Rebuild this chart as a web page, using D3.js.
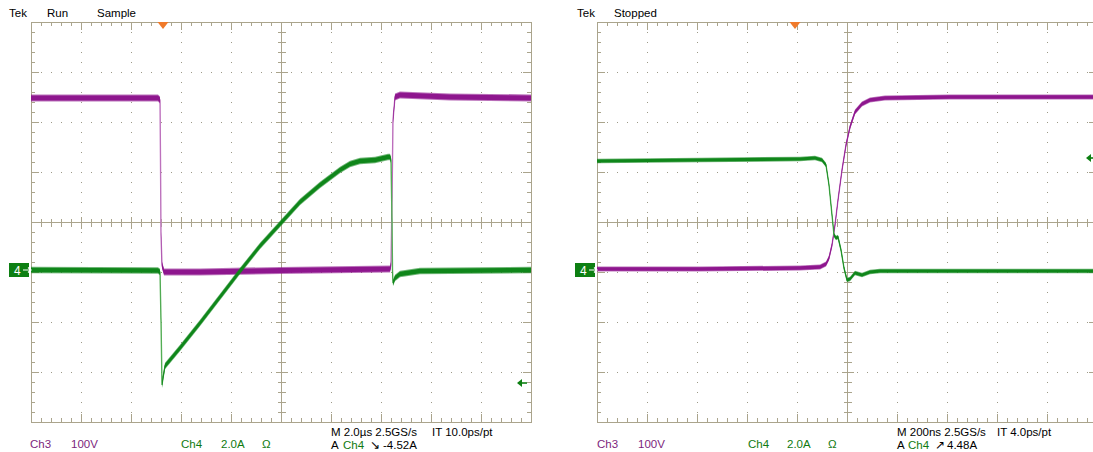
<!DOCTYPE html>
<html><head><meta charset="utf-8">
<script src="https://cdn.jsdelivr.net/npm/d3@7/dist/d3.min.js"></script>
<style>
html,body{margin:0;padding:0;background:#fff;}
svg{display:block;}
text{font-family:"Liberation Sans Narrow","Liberation Sans",Arial,sans-serif;font-size:11.5px;}
</style></head>
<body>
<svg id="c" width="1093" height="452"></svg>
<script>
// ---------- DATA ----------
// Left capture: time in µs from left edge of screen (2 µs/div)
const leftTime3 = [0, 2.76, 5.08, 5.16, 5.18, 5.2, 5.24, 5.32, 6.76, 9.96, 14.36, 14.4, 14.44, 14.48, 14.56, 14.76, 16.76, 20];
const leftCh3V  = [346, 346, 346, 342, 222, 72, 12, -2, -2, 1, 4, 12, 142, 302, 348, 352, 348, 346];
const leftTime4 = [0, 5.08, 5.16, 5.2, 5.24, 5.28, 5.36, 5.96, 6.76, 7.56, 8.36, 9.16, 9.96, 10.76, 11.56, 12.36, 12.76, 13.16, 13.76, 14.28, 14.36, 14.4, 14.44, 14.46, 14.48, 14.56, 14.76, 15.56, 20];
const leftCh4A  = [0, -0.02, -0.08, -2.0, -4.6, -4.32, -3.84, -3.12, -2.12, -1.08, -0.04, 0.96, 1.84, 2.72, 3.40, 4.00, 4.24, 4.36, 4.40, 4.52, 4.52, 4.40, 2.0, 0, -0.52, -0.32, -0.16, -0.04, 0];
// Right capture: time in ns from left edge of screen (200 ns/div)
const rightTime3 = [0, 412, 812, 892, 916, 928, 940, 952, 964, 980, 996, 1012, 1032, 1060, 1092, 1152, 1412, 2000];
const rightCh3V  = [4, 4, 6, 8, 14, 26, 52, 92, 142, 202, 252, 288, 318, 334, 342, 346, 348, 348];
const rightTime4 = [0, 412, 812, 872, 900, 916, 928, 940, 948, 956, 964, 976, 988, 1000, 1012, 1032, 1060, 1092, 1132, 1612, 2000];
const rightCh4A  = [4.36, 4.40, 4.44, 4.48, 4.40, 4.20, 3.40, 2.20, 1.40, 1.28, 1.32, 0.80, 0.08, -0.40, -0.36, -0.12, -0.20, -0.08, -0.04, -0.04, -0.04];

const statusLeft  = ["Tek", "Run", "Sample"];
const statusRight = ["Tek", "Stopped"];
const ch3Label = ["Ch3", "100V"];
const ch4Label = ["Ch4", "2.0A", "Ω"];
const horizLeft  = ["M 2.0µs 2.5GS/s", "IT 10.0ps/pt"];
const horizRight = ["M 200ns 2.5GS/s", "IT 4.0ps/pt"];
const trigLeft  = ["A", "Ch4", "\u2198", "-4.52A"];
const trigRight = ["A", "Ch4", "\u2197", "4.48A"];

// ---------- STYLE ----------
const PURPLE = "#8e168e", PURPLE_L = "#c27ac2";
const GREEN = "#0f861a", GREEN_L = "#5fb45f";
const TXT_P = "#7d1f7d", TXT_G = "#107a10";
const GRID = "#aaa48c", DOT = "#9d9a88";

const svg = d3.select("#c");

function panel(id, x0, xDomain) {
  const p = {x0: x0, y0: 22, w: 500, h: 400};
  p.x = d3.scaleLinear().domain(xDomain).range([x0, x0 + 500]);
  p.dx = d3.scaleLinear().domain([0, 10]).range([x0, x0 + 500]);
  p.dy = d3.scaleLinear().domain([0, 8]).range([22, 422]);
  p.y3 = d3.scaleLinear().domain([-302, 498]).range([422, 22]);
  p.y4 = d3.scaleLinear().domain([-6.08, 9.92]).range([422, 22]);
  const g = svg.append("g");
  p.g = g;
  svg.append("clipPath").attr("id", id).append("rect")
    .attr("x", x0).attr("y", 22).attr("width", 500).attr("height", 400);
  const dots = g.append("g").attr("fill", DOT);
  for (let i = 1; i < 10; i++) {
    if (i === 5) continue;
    for (let v = 0.2; v < 8; v += 0.2) {
      dots.append("rect").attr("x", Math.round(p.dx(i))).attr("y", Math.round(p.dy(v))).attr("width", 1).attr("height", 1);
    }
  }
  for (let j = 1; j < 8; j++) {
    if (j === 4) continue;
    for (let u = 0.2; u < 10; u += 0.2) {
      dots.append("rect").attr("x", Math.round(p.dx(u))).attr("y", Math.round(p.dy(j))).attr("width", 1).attr("height", 1);
    }
  }
  const lines = g.append("g").attr("stroke", GRID).attr("stroke-width", 1).attr("fill", "none").attr("shape-rendering", "crispEdges");
  lines.append("rect").attr("x", x0 + 0.5).attr("y", 22.5).attr("width", 500).attr("height", 400);
  const cx = Math.round(p.dx(5)) + 0.5, cy = Math.round(p.dy(4)) + 0.5;
  lines.append("line").attr("x1", x0).attr("x2", x0 + 500).attr("y1", cy).attr("y2", cy);
  lines.append("line").attr("x1", cx).attr("x2", cx).attr("y1", 22).attr("y2", 422);
  for (let k = 0; k <= 50; k++) {
    const u = k * 0.2, xx = Math.round(p.dx(u)) + 0.5;
    const major = (k % 5 === 0);
    const Lt = major ? 8 : 4;
    lines.append("line").attr("x1", xx).attr("x2", xx).attr("y1", 22).attr("y2", 22 + Lt);
    lines.append("line").attr("x1", xx).attr("x2", xx).attr("y1", 422).attr("y2", 422 - Lt);
    lines.append("line").attr("x1", xx).attr("x2", xx).attr("y1", cy - (major ? 6 : 4)).attr("y2", cy + (major ? 6 : 4));
  }
  for (let k = 0; k <= 40; k++) {
    const v = k * 0.2, yy = Math.round(p.dy(v)) + 0.5;
    const major = (k % 5 === 0);
    const Lt = major ? 8 : 4;
    lines.append("line").attr("y1", yy).attr("y2", yy).attr("x1", x0).attr("x2", x0 + Lt);
    lines.append("line").attr("y1", yy).attr("y2", yy).attr("x1", x0 + 500).attr("x2", x0 + 500 - Lt);
    lines.append("line").attr("y1", yy).attr("y2", yy).attr("x1", cx - (major ? 6 : 4)).attr("x2", cx + (major ? 6 : 4));
  }
  p.traces = svg.append("g").attr("clip-path", "url(#" + id + ")");
  return p;
}

function trace(p, ts, vs, yScale, col, colL, half) {
  const data = ts.map((t, i) => [t, vs[i]]);
  const outer = d3.area().x(d => p.x(d[0])).y0(d => yScale(d[1]) - half).y1(d => yScale(d[1]) + half);
  const inner = d3.area().x(d => p.x(d[0])).y0(d => yScale(d[1]) - half * 0.7).y1(d => yScale(d[1]) + half * 0.7);
  const ln = d3.line().x(d => p.x(d[0])).y(d => yScale(d[1]));
  p.traces.append("path").attr("d", ln(data)).attr("fill", "none").attr("stroke", colL).attr("stroke-width", 1.4);
  p.traces.append("path").attr("d", outer(data)).attr("fill", col).attr("opacity", 0.6);
  p.traces.append("path").attr("d", inner(data)).attr("fill", col);
}

function txt(x, y, s, col) {
  svg.append("text").attr("x", x).attr("y", y).attr("fill", col).text(s);
}

function ch4Marker(p) {
  const y = p.y4(0);
  const g = svg.append("g");
  g.append("rect").attr("x", p.x0 - 22).attr("y", y - 7).attr("width", 20).attr("height", 14).attr("fill", "#0d7f12");
  g.append("text").attr("x", p.x0 - 17).attr("y", y + 4.5).attr("fill", "#fff").style("font-size", "12px").text("4");
  g.append("path").attr("d", `M${p.x0 - 8},${y} L${p.x0},${y} M${p.x0 - 3},${y - 2.5} L${p.x0},${y} L${p.x0 - 3},${y + 2.5}`)
    .attr("stroke", "#fff").attr("stroke-width", 1.2).attr("fill", "none");
}

function trigMarker(p, xpix) {
  svg.append("path").attr("d", `M${xpix - 5.5},22 L${xpix + 5.5},22 L${xpix},29 Z`).attr("fill", "#f07a2a");
}

function levelArrow(p, amps) {
  const y = p.y4(amps), xr = p.x0 + 500;
  svg.append("path").attr("d", `M${xr - 13},${y} L${xr - 4},${y}`).attr("stroke", "#0d7f12").attr("stroke-width", 1.6);
  svg.append("path").attr("d", `M${xr - 14},${y} L${xr - 9},${y - 4} L${xr - 9},${y + 4} Z`).attr("fill", "#0d7f12");
}

// ---------- LEFT ----------
const L = panel("clipL", 31, [0, 20]);
trace(L, leftTime3, leftCh3V, L.y3, PURPLE, PURPLE_L, 3.6);
trace(L, leftTime4, leftCh4A, L.y4, GREEN, GREEN_L, 3.2);
ch4Marker(L);
trigMarker(L, L.x(5.28));
levelArrow(L, -4.52);

// ---------- RIGHT ----------
const R = panel("clipR", 597, [0, 2000]);
trace(R, rightTime3, rightCh3V, R.y3, PURPLE, PURPLE_L, 2.5);
trace(R, rightTime4, rightCh4A, R.y4, GREEN, GREEN_L, 2.3);
ch4Marker(R);
trigMarker(R, R.x(792));
(function () {
  const y = R.y4(4.48);
  svg.append("path").attr("d", `M1086,${y} L1091,${y - 4} L1091,${y + 4} Z`).attr("fill", "#0d7f12");
  svg.append("path").attr("d", `M1090,${y} L1096,${y}`).attr("stroke", "#0d7f12").attr("stroke-width", 1.6);
})();

// ---------- TEXT ----------
txt(9, 17, statusLeft[0], "#000");
txt(47, 17, statusLeft[1], "#000");
txt(97, 17, statusLeft[2], "#000");
txt(577, 17, statusRight[0], "#000");
txt(614, 17, statusRight[1], "#000");

txt(30, 448, ch3Label[0], TXT_P); txt(71, 448, ch3Label[1], TXT_P);
txt(181, 448, ch4Label[0], TXT_G); txt(221, 448, ch4Label[1], TXT_G); txt(262, 448, ch4Label[2], TXT_G);
txt(331, 436, horizLeft[0], "#000"); txt(432, 436, horizLeft[1], "#000");
txt(331, 449, trigLeft[0], "#000"); txt(343, 449, trigLeft[1], TXT_G); txt(370, 449, trigLeft[2], "#000"); txt(383, 449, trigLeft[3], "#000");

txt(597, 448, ch3Label[0], TXT_P); txt(638, 448, ch3Label[1], TXT_P);
txt(748, 448, ch4Label[0], TXT_G); txt(787, 448, ch4Label[1], TXT_G); txt(828, 448, ch4Label[2], TXT_G);
txt(897, 436, horizRight[0], "#000"); txt(997, 436, horizRight[1], "#000");
txt(897, 449, trigRight[0], "#000"); txt(908, 449, trigRight[1], TXT_G); txt(935, 449, trigRight[2], "#000"); txt(947, 449, trigRight[3], "#000");
</script>
</body></html>
